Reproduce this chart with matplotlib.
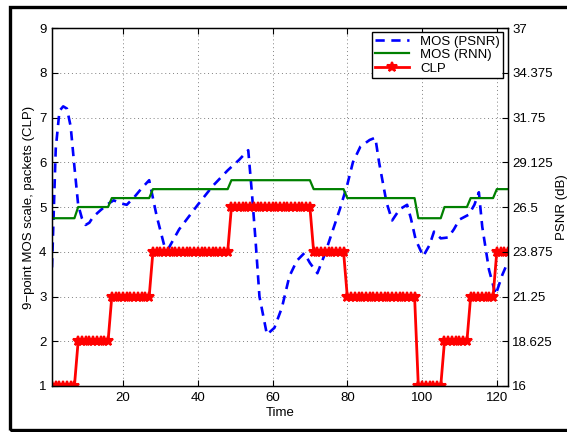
import numpy as np
import matplotlib
matplotlib.use("Agg")
import matplotlib.pyplot as plt
from matplotlib.patches import Rectangle

# MOS predicted from PSNR
psnr_t = [1, 2, 3, 4, 5, 6, 7, 8, 9, 10, 11, 12, 14, 16, 17.5, 19.5, 21, 23, 25, 27,
          28, 29, 31, 32, 35, 40, 44, 48, 51, 53.5, 54.5, 55.5, 56.5, 58.5, 60.5,
          62.5, 64.5, 66.5, 68.5, 70, 72, 74, 76, 78, 80, 81.5, 83.5, 86, 87.5,
          88.5, 90.5, 92, 94, 96, 97, 98.3, 100.3, 102, 103.2, 105, 107, 108.5,
          110, 112.5, 114, 115.2, 116.1, 117.9, 119.7, 121.5, 123]
psnr_mos = [3.65, 6.3, 7.15, 7.25, 7.2, 6.8, 5.9, 5.05, 4.75, 4.6, 4.65, 4.78, 4.93,
            5.07, 5.15, 5.08, 5.05, 5.22, 5.42, 5.6, 5.2, 4.8, 4.15, 4.05, 4.5, 5.05,
            5.47, 5.82, 6.05, 6.27, 5.3, 4.2, 3.0, 2.15, 2.3, 2.75, 3.45, 3.8, 3.97,
            3.75, 3.52, 3.95, 4.45, 4.95, 5.5, 6.0, 6.35, 6.5, 6.55, 6.0, 5.1, 4.7,
            4.95, 5.05, 4.75, 4.27, 3.9, 4.15, 4.45, 4.3, 4.32, 4.5, 4.72, 4.83,
            5.05, 5.33, 4.56, 3.6, 3.04, 3.49, 3.78]

# CLP (consecutive lost packets) as runs: value, number of time steps
clp_levels = [1, 2, 3, 4, 5, 4, 3, 1, 2, 3, 4]
run_lengths = [7, 9, 11, 21, 22, 9, 19, 7, 7, 7, 4]
# MOS from the RNN per run
rnn_levels = [4.75, 5.0, 5.2, 5.4, 5.6, 5.4, 5.2, 4.75, 5.0, 5.2, 5.4]

t = np.arange(1, sum(run_lengths) + 1)
clp = np.repeat(clp_levels, run_lengths)
rnn = np.repeat(rnn_levels, run_lengths)

psnr_ticks = [16, 18.625, 21.25, 23.875, 26.5, 29.125, 31.75, 34.375, 37]

plt.rcParams['font.family'] = ['Liberation Sans', 'DejaVu Sans']
plt.rcParams['font.size'] = 9.5

fig = plt.figure(figsize=(5.67, 4.32), dpi=100)
ax = fig.add_axes([0.0917, 0.1065, 0.8043, 0.8285])

ax.plot(psnr_t, psnr_mos, color='blue', ls=(0, (3.5, 2.5)), lw=1.9, label='MOS (PSNR)')
ax.plot(t, rnn, color=(0, 0.5, 0), lw=1.6, label='MOS (RNN)')
ax.plot(t, clp, color='red', lw=2.0, marker='*', ms=7, mew=1.5, label='CLP')

ax.set_xlim(1, 123)
ax.set_ylim(1, 9)
ax.set_xticks([20, 40, 60, 80, 100, 120])
ax.set_yticks(range(1, 10))
ax.grid(True, ls=(0, (1, 3)), color='0.5', lw=0.7)
ax.tick_params(direction='in', length=4, width=0.8, right=False, top=True, pad=4)
for s in ax.spines.values():
    s.set_linewidth(1.0)
ax.set_xlabel('Time', labelpad=2.5)
ax.set_ylabel('9\u2212point MOS scale, packets (CLP)', labelpad=3)

ax2 = ax.twinx()
ax2.set_ylim(16, 37)
ax2.set_yticks(psnr_ticks)
ax2.set_yticklabels([f'{v:g}' for v in psnr_ticks])
ax2.tick_params(direction='in', length=4, width=0.8, pad=3)
ax2.set_ylabel('PSNR (dB)', labelpad=2)

leg = ax.legend(loc='upper right', fancybox=False, edgecolor='black', framealpha=1,
                handlelength=2.6, borderpad=0.25, labelspacing=0.1, handletextpad=0.8,
                borderaxespad=0, bbox_to_anchor=(0.989, 0.989))
leg.get_frame().set_linewidth(1.0)

fig.patches.append(Rectangle((10 / 567, 2 / 432), 1.2, 423 / 432,
                             transform=fig.transFigure, fill=False, lw=2.4,
                             edgecolor='black'))

fig.savefig('out.png', dpi=100)
